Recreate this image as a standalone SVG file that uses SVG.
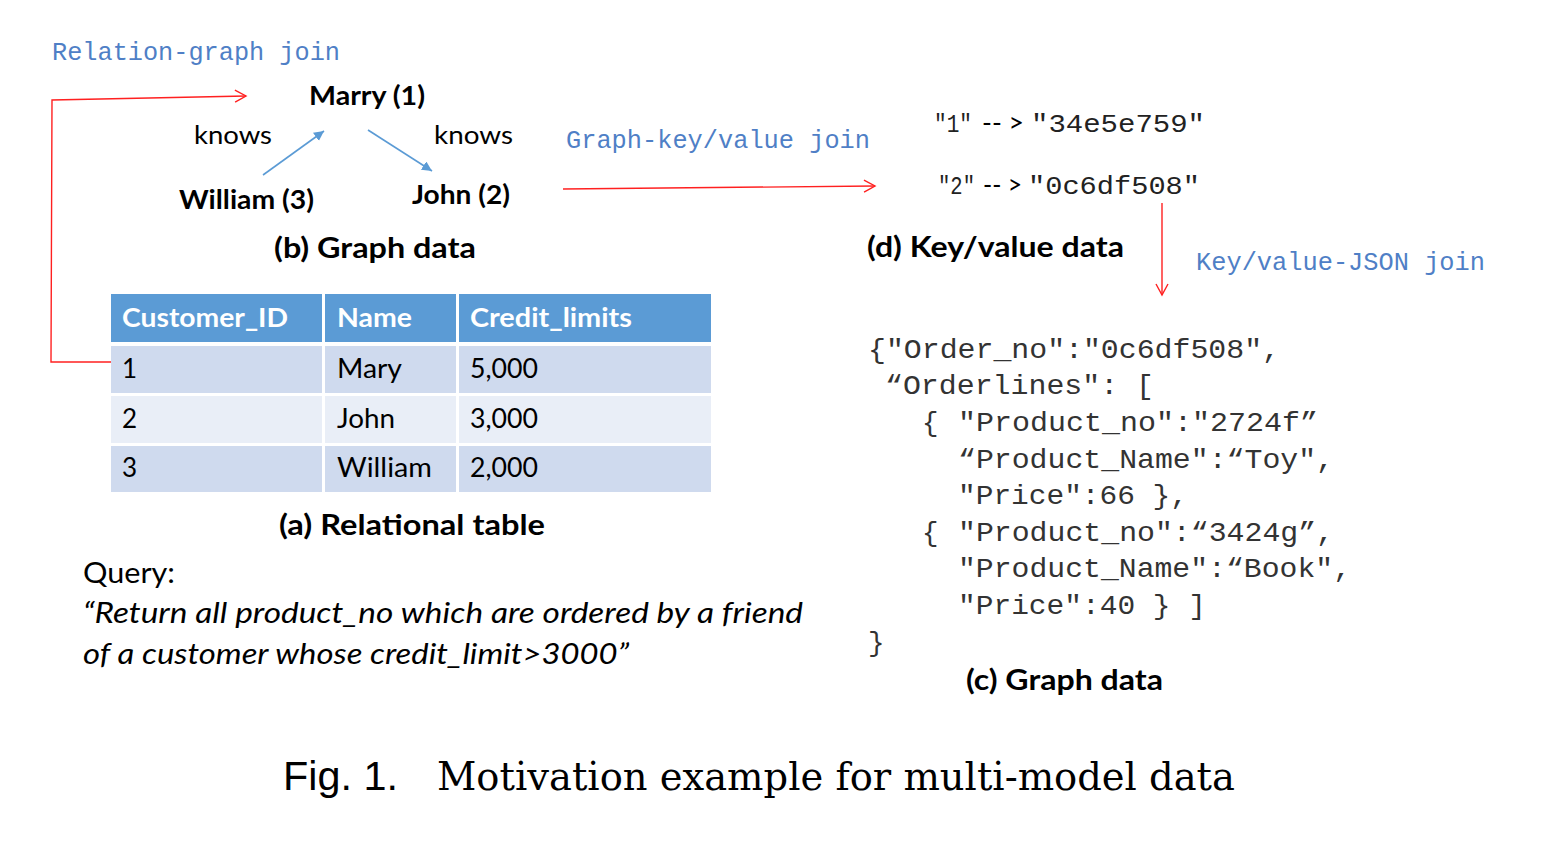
<svg xmlns="http://www.w3.org/2000/svg" width="1560" height="848" viewBox="0 0 1560 848">
<defs>
<marker id="redArrow" markerWidth="14" markerHeight="14" refX="12" refY="7" orient="auto" markerUnits="userSpaceOnUse">
<path d="M1,1 L12,7 L1,13" fill="none" stroke="#ff2020" stroke-width="1.4"/>
</marker>
<marker id="blueArrow" markerWidth="12" markerHeight="12" refX="10" refY="5" orient="auto" markerUnits="userSpaceOnUse">
<path d="M0,0 L10,5 L0,10 Z" fill="#5b9bd5"/>
</marker>
<style>
.join{font-family:"Liberation Mono",monospace;font-size:25px;fill:#4f7fc6}
.sans{font-family:Lato,"Open Sans",sans-serif;fill:#000}
.bold{font-weight:bold}
.mono{font-family:"Liberation Mono",monospace;fill:#222}
.code{font-family:"Liberation Mono",monospace;font-size:27.5px;fill:#333}
.hdr{fill:#5b9bd5}
.rowA{fill:#cfdaee}
.rowB{fill:#e9eef7}
.red{fill:none;stroke:#ff2020;stroke-width:1.4}
.blue{fill:none;stroke:#5b9bd5;stroke-width:1.6}
</style>
</defs>
<rect width="1560" height="848" fill="#fff"/>

<g id="connectors">
<polyline class="red" points="113,362 51,362 52,100 246,96" marker-end="url(#redArrow)"/>
<line class="red" x1="563" y1="189" x2="875" y2="186" marker-end="url(#redArrow)"/>
<line class="red" x1="1162" y1="203" x2="1162" y2="295" marker-end="url(#redArrow)"/>
<line class="blue" x1="263" y1="175" x2="324" y2="131" marker-end="url(#blueArrow)"/>
<line class="blue" x1="368" y1="130" x2="432" y2="171" marker-end="url(#blueArrow)"/>
</g>

<g id="labels-join">
<text class="join" x="52" y="60" textLength="288" lengthAdjust="spacingAndGlyphs">Relation-graph join</text>
<text class="join" x="566" y="148" textLength="304" lengthAdjust="spacingAndGlyphs">Graph-key/value join</text>
<text class="join" x="1196" y="270" textLength="289" lengthAdjust="spacingAndGlyphs">Key/value-JSON join</text>
</g>

<g id="graph-b">
<text class="sans bold" x="309" y="105" font-size="26" textLength="116" lengthAdjust="spacingAndGlyphs">Marry (1)</text>
<text class="sans" x="194" y="144" font-size="25" textLength="78" lengthAdjust="spacingAndGlyphs">knows</text>
<text class="sans" x="434" y="144" font-size="25" textLength="79" lengthAdjust="spacingAndGlyphs">knows</text>
<text class="sans bold" x="179" y="209" font-size="26" textLength="135" lengthAdjust="spacingAndGlyphs">William (3)</text>
<text class="sans bold" x="412" y="204" font-size="26" textLength="98" lengthAdjust="spacingAndGlyphs">John (2)</text>
<text class="sans bold" x="274" y="258" font-size="29" textLength="202" lengthAdjust="spacingAndGlyphs">(b) Graph data</text>
</g>

<g id="keyvalue-d">
<text x="934" y="132" font-size="26"><tspan class="mono" textLength="38" lengthAdjust="spacingAndGlyphs">"1"</tspan><tspan class="sans" x="982" textLength="42" lengthAdjust="spacingAndGlyphs">-- &gt;</tspan><tspan class="mono" x="1031" textLength="174" lengthAdjust="spacingAndGlyphs">"34e5e759"</tspan></text>
<text x="938" y="194" font-size="26"><tspan class="mono" textLength="37" lengthAdjust="spacingAndGlyphs">"2"</tspan><tspan class="sans" x="983" textLength="39" lengthAdjust="spacingAndGlyphs">-- &gt;</tspan><tspan class="mono" x="1028" textLength="172" lengthAdjust="spacingAndGlyphs">"0c6df508"</tspan></text>
<text class="sans bold" x="867" y="257" font-size="29" textLength="257" lengthAdjust="spacingAndGlyphs">(d) Key/value data</text>
</g>

<g id="table-a">
<rect class="hdr" x="111" y="294" width="211" height="48"/>
<rect class="hdr" x="325" y="294" width="131" height="48"/>
<rect class="hdr" x="459" y="294" width="252" height="48"/>
<rect class="rowA" x="111" y="346" width="211" height="47"/>
<rect class="rowA" x="325" y="346" width="131" height="47"/>
<rect class="rowA" x="459" y="346" width="252" height="47"/>
<rect class="rowB" x="111" y="396" width="211" height="47"/>
<rect class="rowB" x="325" y="396" width="131" height="47"/>
<rect class="rowB" x="459" y="396" width="252" height="47"/>
<rect class="rowA" x="111" y="446" width="211" height="46"/>
<rect class="rowA" x="325" y="446" width="131" height="46"/>
<rect class="rowA" x="459" y="446" width="252" height="46"/>
<g font-family="Lato,'Open Sans',sans-serif" font-size="26" fill="#fff" font-weight="bold">
<text x="122" y="327" textLength="166" lengthAdjust="spacingAndGlyphs">Customer_ID</text>
<text x="337" y="327" textLength="75" lengthAdjust="spacingAndGlyphs">Name</text>
<text x="470" y="327" textLength="162" lengthAdjust="spacingAndGlyphs">Credit_limits</text>
</g>
<g font-family="Lato,'Open Sans',sans-serif" font-size="26" fill="#000">
<text x="122" y="378">1</text>
<text x="337" y="378" textLength="65" lengthAdjust="spacingAndGlyphs">Mary</text>
<text x="470" y="378" textLength="68" lengthAdjust="spacingAndGlyphs">5,000</text>
<text x="122" y="428">2</text>
<text x="337" y="428" textLength="58" lengthAdjust="spacingAndGlyphs">John</text>
<text x="470" y="428" textLength="68" lengthAdjust="spacingAndGlyphs">3,000</text>
<text x="122" y="477">3</text>
<text x="337" y="477" textLength="95" lengthAdjust="spacingAndGlyphs">William</text>
<text x="470" y="477" textLength="68" lengthAdjust="spacingAndGlyphs">2,000</text>
</g>
<text class="sans bold" x="279" y="535" font-size="29" textLength="266" lengthAdjust="spacingAndGlyphs">(a) Relational table</text>
</g>

<g id="query">
<text class="sans" x="83" y="583" font-size="28" textLength="92" lengthAdjust="spacingAndGlyphs">Query:</text>
<text class="sans" x="83" y="623" font-size="28" font-style="italic" textLength="720" lengthAdjust="spacingAndGlyphs">“Return all product_no which are ordered by a friend</text>
<text class="sans" x="83" y="664" font-size="28" font-style="italic" textLength="546" lengthAdjust="spacingAndGlyphs">of a customer whose credit_limit&gt;3000”</text>
</g>

<g id="json-c">
<text class="code" x="868" y="358" textLength="412" lengthAdjust="spacingAndGlyphs">{"Order_no":"0c6df508",</text>
<text class="code" x="885" y="394" textLength="269" lengthAdjust="spacingAndGlyphs">“Orderlines": [</text>
<text class="code" x="922" y="431">{</text>
<text class="code" x="958" y="431" textLength="360" lengthAdjust="spacingAndGlyphs">"Product_no":"2724f”</text>
<text class="code" x="958" y="468" textLength="376" lengthAdjust="spacingAndGlyphs">“Product_Name":“Toy",</text>
<text class="code" x="958" y="504" textLength="230" lengthAdjust="spacingAndGlyphs">"Price":66 },</text>
<text class="code" x="922" y="541">{</text>
<text class="code" x="958" y="541" textLength="376" lengthAdjust="spacingAndGlyphs">"Product_no":“3424g”,</text>
<text class="code" x="958" y="577" textLength="393" lengthAdjust="spacingAndGlyphs">"Product_Name":“Book",</text>
<text class="code" x="958" y="614" textLength="248" lengthAdjust="spacingAndGlyphs">"Price":40 } ]</text>
<text class="code" x="868" y="651">}</text>
<text class="sans bold" x="966" y="690" font-size="29" textLength="197" lengthAdjust="spacingAndGlyphs">(c) Graph data</text>
</g>

<g id="caption">
<text x="283" y="790" font-family="'Liberation Sans',Arial,sans-serif" font-size="40" fill="#000" textLength="115" lengthAdjust="spacingAndGlyphs">Fig. 1.</text>
<text x="437" y="790" font-family="'DejaVu Serif','Liberation Serif',serif" font-size="40" fill="#000" textLength="798" lengthAdjust="spacingAndGlyphs">Motivation example for multi-model data</text>
</g>
</svg>
